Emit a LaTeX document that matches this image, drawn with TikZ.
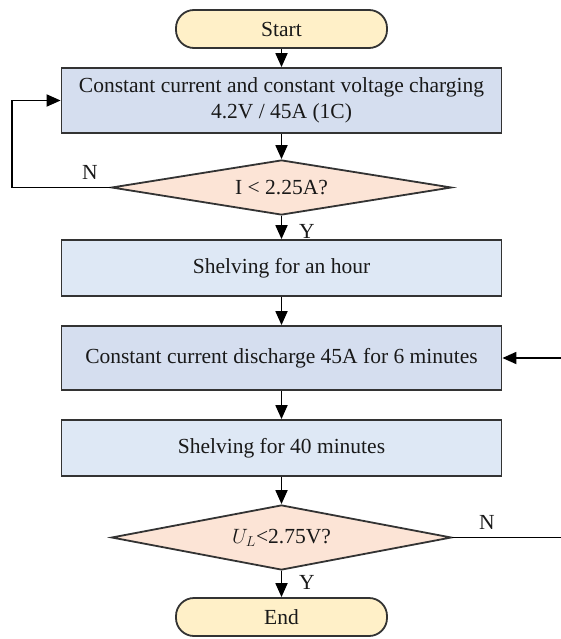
\documentclass[tikz,border=0pt]{standalone}
\usepackage{fontspec}
\setmainfont{Liberation Serif}
\usetikzlibrary{shapes.geometric,arrows.meta}
\definecolor{termfill}{HTML}{FFF0C8}
\definecolor{darkbox}{HTML}{D5DEEF}
\definecolor{lightbox}{HTML}{DEE8F5}
\definecolor{decfill}{HTML}{FCE4D6}
\definecolor{edge}{HTML}{333333}
\begin{document}
\begin{tikzpicture}[x=1pt,y=-1pt,
  every node/.style={font=\fontsize{21.5}{25}\selectfont, text=black!90},
  term/.style={draw=edge, line width=1.8pt, fill=termfill, rounded corners=18pt, minimum width=211pt, minimum height=38pt, inner sep=0pt},
  procbox/.style={draw=edge, line width=1.8pt, minimum width=440pt, inner sep=0pt, align=center},
  decision/.style={draw=edge, line width=1.8pt, fill=decfill, diamond, aspect=6, inner sep=0pt, minimum width=340pt},
  arr/.style={draw=black, line width=1.8pt, -{Triangle[length=14pt,width=12pt]}},
  lbl/.style={inner sep=0pt}
]
\useasboundingbox (0,0) rectangle (560,639);
\node[term] (start) at (281.5,29) {Start};
\node[procbox, fill=darkbox, minimum height=65pt] (b1) at (281.5,100.5) {Constant current and constant voltage charging\\[1pt]4.2V / 45A (1C)};
\node[decision, minimum height=55pt] (d1) at (281.5,187.5) {I < 2.25A?};
\node[procbox, fill=lightbox, minimum height=56pt] (b2) at (281.5,268) {Shelving for an hour};
\node[procbox, fill=darkbox, minimum height=64pt] (b3) at (281.5,358) {Constant current discharge 45A for 6 minutes};
\node[procbox, fill=lightbox, minimum height=56pt] (b4) at (281.5,448) {Shelving for 40 minutes};
\node[decision, minimum height=65pt] (d2) at (281.5,537.5) {$U_L$<2.75V?};
\node[term] (end) at (281.5,617) {End};

\node[lbl] (n1) at (90,172) {N};
\node[lbl] (y1) at (307,231) {Y};
\node[lbl] (n2) at (487,522) {N};
\node[lbl] (y2) at (307,582) {Y};

\coordinate (l1) at (12,187.5);
\coordinate (r1) at (580,537.5);
\coordinate (r2) at (580,358);

\draw[arr] (start) -- (b1);
\draw[arr] (b1) -- (d1);
\draw[arr] (d1) -- (b2);
\draw[arr] (b2) -- (b3);
\draw[arr] (b3) -- (b4);
\draw[arr] (b4) -- (d2);
\draw[arr] (d2) -- (end);
\draw[arr] (d1.west) -- (l1) |- (b1.west);
\draw[arr] (d2.east) -- (r1) -- (r2) -- (b3.east);
\end{tikzpicture}
\end{document}
